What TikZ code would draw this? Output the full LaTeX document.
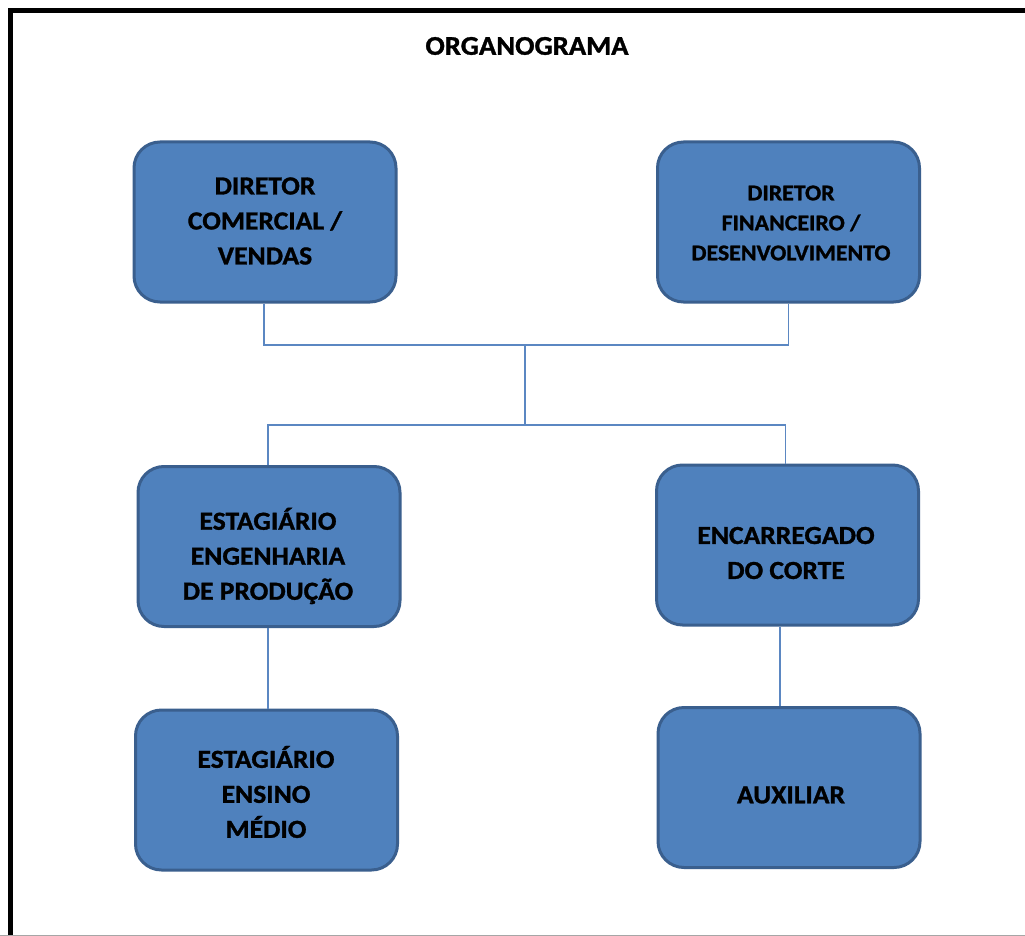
\documentclass[tikz,border=0pt]{standalone}
\usepackage{fontspec}
\setmainfont{Carlito}[FakeStretch=1.06, BoldFeatures={FakeBold=1.2}]
\usetikzlibrary{positioning}

\definecolor{boxfill}{HTML}{4F81BD}
\definecolor{boxedge}{HTML}{3A5F8E}
\definecolor{linkblue}{HTML}{5B87C2}

\tikzset{
  orgbox/.style={draw=boxedge, line width=3pt, fill=boxfill, rounded corners=26pt,
    minimum width=262pt, minimum height=160pt, inner sep=0pt},
  lbl/.style={align=center, font=\bfseries\fontsize{26}{35}\selectfont, text=black, inner sep=0pt},
  lblsmall/.style={align=center, font=\bfseries\fontsize{22.5}{30}\selectfont, text=black, inner sep=0pt},
  conn/.style={draw=linkblue, line width=1.6pt}
}

\begin{document}
\begin{tikzpicture}[x=1pt, y=-1pt]
  \useasboundingbox (0,0) rectangle (1025,936);
  \fill[white] (0,0) rectangle (1025,936);

  % outer frame, running off the right and bottom edges
  \draw[line width=5pt, black] (1040,10.5) -- (10.5,10.5) -- (10.5,950);
  \draw[line width=1pt, black!35] (0,935.5) -- (1025,935.5);

  % title
  \node[font=\bfseries\fontsize{27}{30}\selectfont] (title) at (527,46) {ORGANOGRAMA};

  % boxes
  \node[orgbox] (b1) at (265,222) {};
  \node[orgbox] (b2) at (788.5,222) {};
  \node[orgbox] (b3) at (269,546.5) {};
  \node[orgbox] (b4) at (787.5,545) {};
  \node[orgbox] (b5) at (266.5,790) {};
  \node[orgbox] (b6) at (789,787.5) {};

  % box captions
  \node[lbl] (t1) at (265,221) {DIRETOR\\COMERCIAL /\\VENDAS};
  \node[lblsmall] (t2) at (791,223) {DIRETOR\\FINANCEIRO /\\DESENVOLVIMENTO};
  \node[lbl] (t3) at (268,556) {ESTAGIÁRIO\\ENGENHARIA\\DE PRODUÇÃO};
  \node[lbl] (t4) at (786,553) {ENCARREGADO\\DO CORTE};
  \node[lbl] (t5) at (266,792) {ESTAGIÁRIO\\ENSINO\\MÉDIO};
  \node[lbl] (t6) at (791,795) {AUXILIAR};

  % junctions of the connector tree
  \coordinate (j1) at (525,345);
  \coordinate (j2) at (525,425);

  % connectors
  \draw[conn] ([xshift=-1pt]b1.south) |- (j1) -| (b2.south);
  \draw[conn] (j1) -- (j2);
  \draw[conn] ([xshift=-1pt]b3.north) |- (j2) -| ([xshift=-2pt]b4.north);
  \draw[conn] ([xshift=-1pt]b3.south) -- ([xshift=-1pt]b3.south |- b5.north);
  \draw[conn] ([xshift=-7.5pt]b4.south) -- ([xshift=-7.5pt]b4.south |- b6.north);
\end{tikzpicture}
\end{document}
